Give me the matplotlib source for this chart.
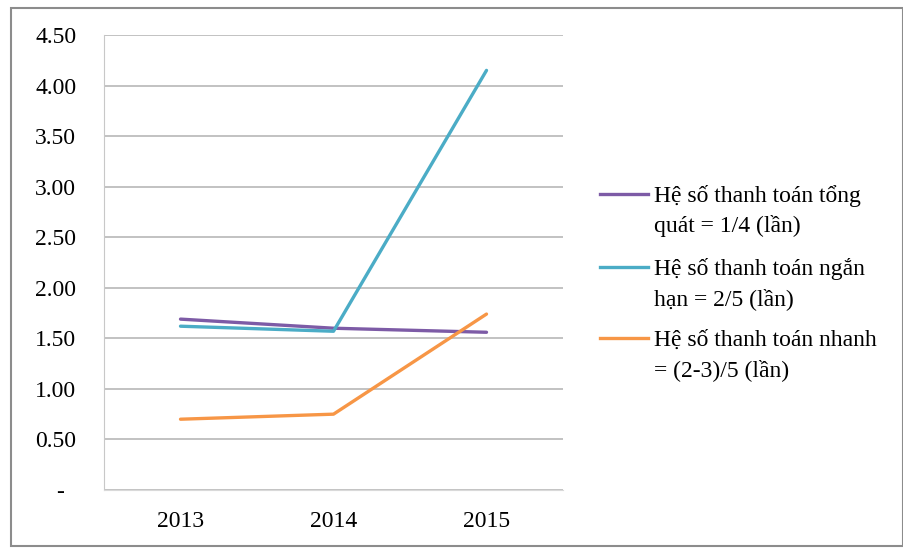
import matplotlib
matplotlib.use("Agg")
import matplotlib.pyplot as plt
from matplotlib.lines import Line2D
from matplotlib.patches import Rectangle

years = ["2013", "2014", "2015"]
tong_quat = [1.69, 1.60, 1.56]
ngan_han = [1.62, 1.57, 4.15]
nhanh = [0.70, 0.75, 1.74]

labels = [
    "Hệ số thanh toán tổng\nquát = 1/4 (lần)",
    "Hệ số thanh toán ngắn\nhạn = 2/5 (lần)",
    "Hệ số thanh toán nhanh\n= (2-3)/5 (lần)",
]
colors = ["#7D5BA6", "#4BACC6", "#F79646"]
y_ticks = [0, 0.5, 1.0, 1.5, 2.0, 2.5, 3.0, 3.5, 4.0, 4.5]
y_tick_labels = ["-  "] + [f"{v:.2f}" for v in y_ticks[1:]]

plt.rcParams["font.family"] = ["Liberation Serif", "DejaVu Serif"]
FS = 17

W, H = 904, 548
fig = plt.figure(figsize=(W / 100, H / 100), dpi=100)

# outer frame of the picture
fig.add_artist(Rectangle((11 / W, 1 - 546 / H), (903 - 11) / W, (546 - 8) / H,
                         transform=fig.transFigure, fill=False,
                         edgecolor="#8c8c8c", linewidth=1.5))

ax = fig.add_axes([104 / W, 1 - 490 / H, (563 - 104) / W, (490 - 35) / H])

x = range(len(years))
for series, c in zip([tong_quat, ngan_han, nhanh], colors):
    ax.plot(x, series, color=c, linewidth=2.4, solid_capstyle="round")

ax.set_xlim(-0.5, len(years) - 0.5)
ax.set_ylim(0, 4.5)
ax.set_xticks(list(x))
ax.set_xticklabels(years, fontsize=FS)
ax.set_yticks(y_ticks)
ax.set_yticklabels(y_tick_labels, fontsize=FS)
ax.tick_params(length=0)
ax.tick_params(axis="y", pad=20)
ax.tick_params(axis="x", pad=15)
ax.grid(axis="y", color="#bdbdbd", linewidth=1.3)
ax.set_axisbelow(True)
for side in ["top", "right"]:
    ax.spines[side].set_visible(False)
ax.spines["left"].set_color("#c8c8c8")
ax.spines["bottom"].set_color("#d9d9d9")

# legend drawn by hand so the line sits on the first text row
legend_rows = [194, 267, 338]
for lab, c, yy in zip(labels, colors, legend_rows):
    fy = 1 - yy / H
    fig.add_artist(Line2D([600 / W, 648 / W], [fy, fy], transform=fig.transFigure,
                          color=c, linewidth=2.4))
    # baseline alignment uses the last text row
    fig.text(654 / W, 1 - (yy + 38) / H, lab, fontsize=FS, ha="left",
             va="baseline", linespacing=1.46, transform=fig.transFigure)

fig.savefig("out.png", dpi=100)
